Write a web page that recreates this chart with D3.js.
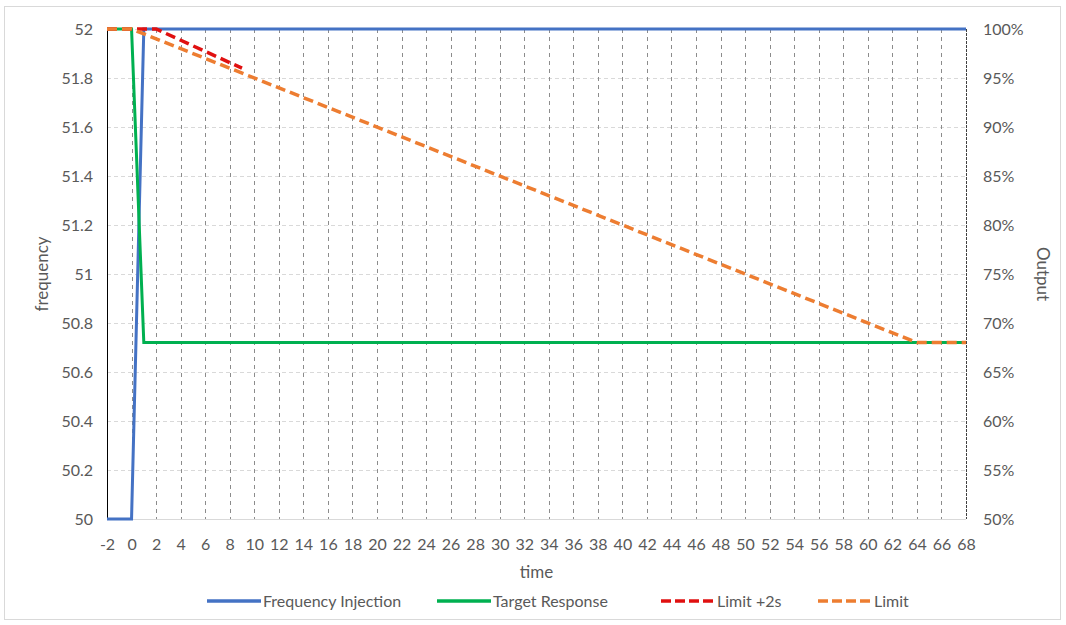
<!DOCTYPE html>
<html><head><meta charset="utf-8">
<script src="https://cdn.jsdelivr.net/npm/d3@7"></script>
<style>body{margin:0;background:#fff;}svg{display:block;}text{font-family:Lato,"Open Sans",sans-serif;fill:#595959;}</style>
</head><body><svg id="c" width="1066" height="625"></svg>
<script>
const xTicks = d3.range(-2, 69, 2);
const yLeftTicks = [50, 50.2, 50.4, 50.6, 50.8, 51, 51.2, 51.4, 51.6, 51.8, 52];
const yRightTicks = [50, 55, 60, 65, 70, 75, 80, 85, 90, 95, 100];
const freqInjection = [[-2, 50], [0, 50], [1, 52], [68, 52]];
const targetResponse = [[-2, 100], [0, 100], [1, 68], [68, 68]];
const limitPlus2s = [[-2, 100], [2, 100], [9, 96]];
const limit = [[-2, 100], [0, 100], [64, 68], [68, 68]];
const seriesNames = ["Frequency Injection", "Target Response", "Limit +2s", "Limit"];
const colors = ["#4472C4", "#00B050", "#E01010", "#ED7D31"];

const svg = d3.select("#c");
const L = 107, R = 966, T = 29, B = 519;
const FS = 16;
const x = d3.scaleLinear().domain([-2, 68]).range([L, R]);
const yL = d3.scaleLinear().domain([50, 52]).range([B, T]);
const yR = d3.scaleLinear().domain([50, 100]).range([B, T]);

// outer border
svg.append("rect").attr("x", 4.5).attr("y", 6.5).attr("width", 1056).attr("height", 613)
  .attr("fill", "none").attr("stroke", "#d9d9d9");

// horizontal gridlines
svg.append("g").selectAll("line").data(yLeftTicks.slice(1)).join("line")
  .attr("x1", L).attr("x2", R).attr("y1", d => Math.round(yL(d)) + 0.5).attr("y2", d => Math.round(yL(d)) + 0.5)
  .attr("stroke", "#d9d9d9").attr("stroke-dasharray", "4,3");
// vertical gridlines
svg.append("g").selectAll("line").data(xTicks.filter(d => d > -2 && d < 68)).join("line")
  .attr("x1", d => Math.round(x(d)) + 0.5).attr("x2", d => Math.round(x(d)) + 0.5).attr("y1", T).attr("y2", B)
  .attr("stroke", "#8c8c8c").attr("stroke-dasharray", "4,4");
// bottom axis line
svg.append("line").attr("x1", L).attr("x2", R).attr("y1", B + 0.5).attr("y2", B + 0.5).attr("stroke", "#d9d9d9");
// left axis line
svg.append("line").attr("x1", L + 0.5).attr("x2", L + 0.5).attr("y1", T).attr("y2", B).attr("stroke", "#000");
// right line
svg.append("line").attr("x1", R + 0.5).attr("x2", R + 0.5).attr("y1", T).attr("y2", B).attr("stroke", "#404040").attr("stroke-dasharray", "3,1");

// axes labels via d3 axes
const axB = svg.append("g").attr("transform", `translate(0,${B + 25})`)
  .call(d3.axisBottom(x).tickValues(xTicks).tickSize(0).tickPadding(0).tickFormat(d => String(d)));
const axL = svg.append("g").attr("transform", `translate(${L - 14},0)`)
  .call(d3.axisLeft(yL).tickValues(yLeftTicks).tickSize(0).tickPadding(0).tickFormat(d => String(+d.toFixed(1))));
const axR = svg.append("g").attr("transform", `translate(${R + 17},0)`)
  .call(d3.axisRight(yR).tickValues(yRightTicks).tickSize(0).tickPadding(0).tickFormat(d => d + "%"));
[axB, axL, axR].forEach(a => { a.select(".domain").remove(); a.selectAll("text").attr("font-size", FS).attr("fill", "#595959").style("font-family", "Lato, sans-serif"); });
axB.selectAll("text").attr("dy", "0.35em");

// titles
svg.append("text").attr("x", (L + R) / 2).attr("y", 578).attr("text-anchor", "middle").attr("font-size", FS + 1).text("time");
svg.append("text").attr("transform", `translate(48,${(T + B) / 2}) rotate(-90)`).attr("text-anchor", "middle").attr("font-size", FS + 1).text("frequency");
svg.append("text").attr("transform", `translate(1037,${(T + B) / 2}) rotate(90)`).attr("text-anchor", "middle").attr("font-size", FS + 1).text("Output");

// series
const lineL = d3.line().x(d => x(d[0])).y(d => yL(d[1]));
const lineR = d3.line().x(d => x(d[0])).y(d => yR(d[1]));
const g = svg.append("g").attr("fill", "none");
g.append("path").datum(freqInjection).attr("d", lineL).attr("stroke", colors[0]).attr("stroke-width", 3);
g.append("path").datum(targetResponse).attr("d", lineR).attr("stroke", colors[1]).attr("stroke-width", 3);
g.append("path").datum(limitPlus2s).attr("d", lineR).attr("stroke", colors[2]).attr("stroke-width", 3.5).attr("stroke-dasharray", "10,5");
g.append("path").datum(limit).attr("d", lineR).attr("stroke", colors[3]).attr("stroke-width", 3.5).attr("stroke-dasharray", "10,5");

// legend
const legX = [207, 437, 661, 818];
const leg = svg.append("g").selectAll("g").data(seriesNames).join("g").attr("transform", (d, i) => `translate(${legX[i]},601)`);
leg.append("line").attr("x1", 0).attr("x2", 54).attr("stroke", (d, i) => colors[i]).attr("stroke-width", 3.5)
  .attr("stroke-dasharray", (d, i) => i >= 2 ? "10,4" : null);
leg.append("text").attr("x", 56).attr("dy", "0.35em").attr("font-size", FS).text(d => d);
</script></body></html>
